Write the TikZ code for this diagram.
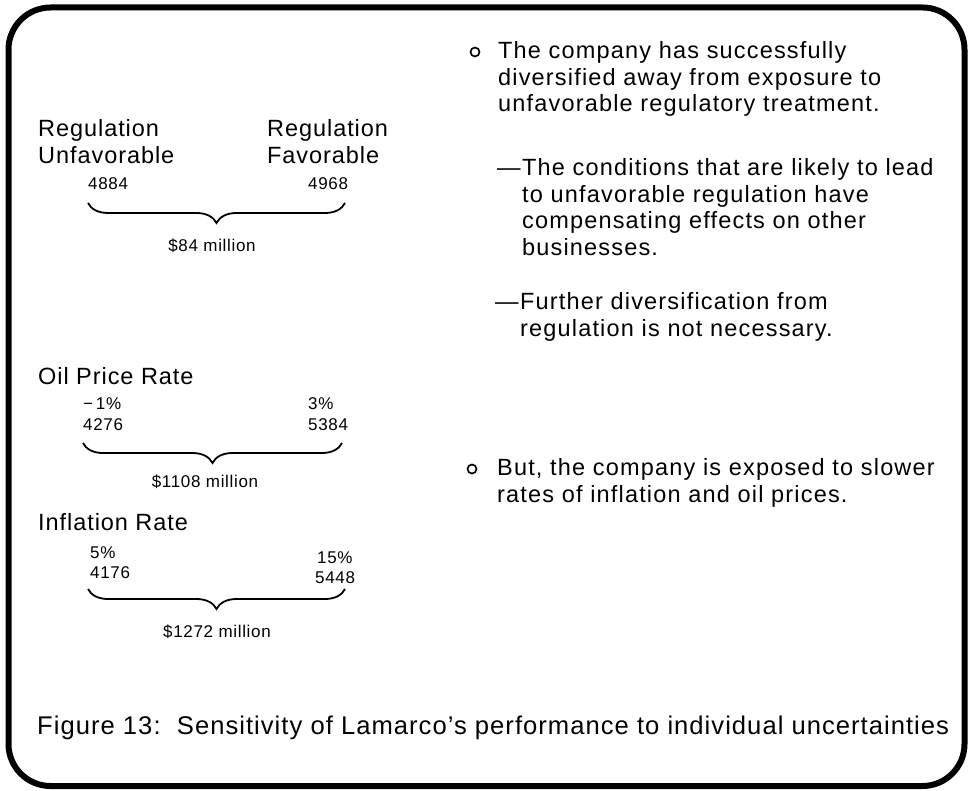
\documentclass[tikz,border=0pt]{standalone}
\usepackage{fontspec}
\setmainfont{Liberation Sans}[LetterSpace=4]
\newfontfamily\widerfont{Liberation Sans}[LetterSpace=5]
\usetikzlibrary{decorations.pathreplacing}
\tikzset{
  frame/.style={line width=6pt, rounded corners=42pt},
  big/.style={font=\fontsize{23.5}{26.5}\selectfont, inner sep=0pt, anchor=base west, align=left},
  rightcol/.style={big, font=\widerfont\fontsize{23.5}{26.5}\selectfont},
  small/.style={font=\fontsize{17}{20}\selectfont, inner sep=0pt, anchor=base west},
  total/.style={font=\fontsize{17}{20}\selectfont, inner sep=0pt, anchor=base},
  bracebar/.style={decorate, decoration={brace, mirror, amplitude=20pt}, line width=1.8pt},
  bul/.style={circle, draw, line width=1.7pt, minimum size=9pt, inner sep=0pt},
  caption/.style={font=\fontsize{25.6}{28}\selectfont, inner sep=0pt, anchor=base west},
}
\begin{document}
\begin{tikzpicture}[x=1pt,y=-1pt]
\useasboundingbox (0,0) rectangle (971,791);
\draw[frame] (8.5,7.5) rectangle (964.5,786);

% left: regulation (anchor = baseline of the last line)
\node[big] (regU) at (38,163.5) {Regulation\\Unfavorable};
\node[big] (regF) at (267,163.5) {Regulation\\Favorable};
\node[small] (v1) at (88,190) {4884};
\node[small] (v2) at (308,190) {4968};
\coordinate (b1l) at (88,203);
\coordinate (b1r) at (345,203);
\draw[bracebar] (b1l) -- (b1r);
\node[total] (t1) at (212,252) {\$84 million};

% oil price
\node[big] (oil) at (38,384) {Oil Price Rate};
\node[small] (o1) at (83,409) {−\,1\%};
\node[small] (o2) at (83,430) {4276};
\node[small] (o3) at (308,409) {3\%};
\node[small] (o4) at (308,430) {5384};
\coordinate (b2l) at (83,443);
\coordinate (b2r) at (342,443);
\draw[bracebar] (b2l) -- (b2r);
\node[total] (t2) at (205,487) {\$1108 million};

% inflation
\node[big] (inf) at (38,530) {Inflation Rate};
\node[small] (i1) at (90,558) {5\%};
\node[small] (i2) at (90,578) {4176};
\node[small] (i3) at (317,563) {15\%};
\node[small] (i4) at (315,583) {5448};
\coordinate (b3l) at (88,589);
\coordinate (b3r) at (345,589);
\draw[bracebar] (b3l) -- (b3r);
\node[total] (t3) at (217,637) {\$1272 million};

% right column (anchor = baseline of the last line)
\node[bul] (bu1) at (475,52) {};
\node[rightcol] (p1) at (498,112) {The company has successfully\\diversified away from exposure to\\unfavorable regulatory treatment.};
\node[rightcol] (d1) at (497,176) {—};
\node[rightcol] (p2) at (522,255.5) {The conditions that are likely to lead\\to unfavorable regulation have\\compensating effects on other\\businesses.};
\node[rightcol] (d2) at (495,310) {—};
\node[rightcol] (p3) at (520,336.5) {Further diversification from\\regulation is not necessary.};
\node[bul] (bu2) at (472,469) {};
\node[rightcol] (p4) at (497,502) {But, the company is exposed to slower\\rates of inflation and oil prices.};

\node[caption] (cap) at (37,734) {Figure 13:\ \ Sensitivity of Lamarco’s performance to individual uncertainties};
\end{tikzpicture}
\end{document}
